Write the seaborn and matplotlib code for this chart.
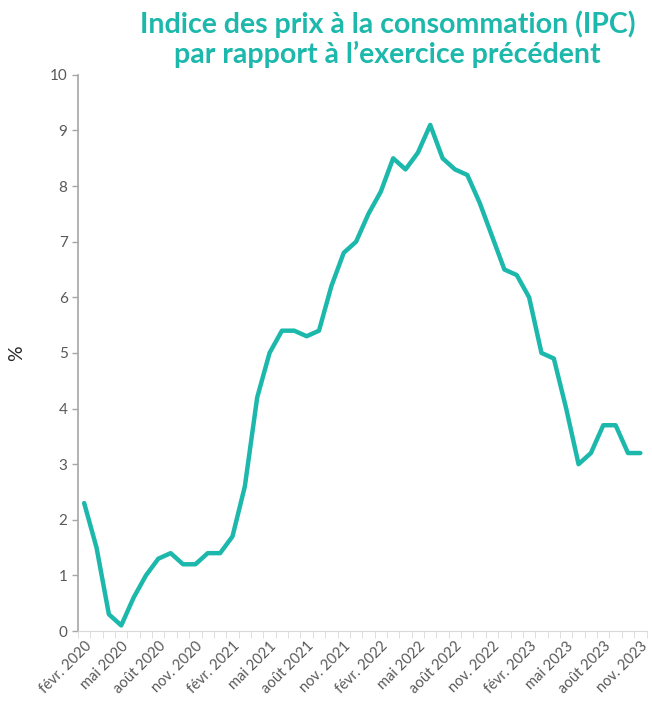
import pandas as pd
import matplotlib.pyplot as plt
import seaborn as sns
import numpy as np

# Mois (févr. 2020 -> nov. 2023)
mois = ['févr.', 'mars', 'avr.', 'mai', 'juin', 'juil.', 'août', 'sept.', 'oct.', 'nov.', 'déc.', 'janv.']
annees = [2020] * 11 + [2021] * 12 + [2022] * 12 + [2023] * 11
etiquettes = [f"{mois[i % 12]} {annees[i]}" for i in range(46)]

# IPC sur un an (%)
ipc = [2.3, 1.5, 0.3, 0.1, 0.6, 1.0, 1.3, 1.4, 1.2, 1.2, 1.4,
       1.4, 1.7, 2.6, 4.2, 5.0, 5.4, 5.4, 5.3, 5.4, 6.2, 6.8, 7.0,
       7.5, 7.9, 8.5, 8.3, 8.6, 9.1, 8.5, 8.3, 8.2, 7.7, 7.1, 6.5,
       6.4, 6.0, 5.0, 4.9, 4.0, 3.0, 3.2, 3.7, 3.7, 3.2, 3.2]

df = pd.DataFrame({'pos': np.arange(len(ipc)), 'ipc': ipc, 'mois': etiquettes})

sns.set_style("white")
plt.rcParams['font.family'] = ['Lato', 'DejaVu Sans']

teal = '#1DB8AC'
gris = '#A6A6A6'

fig = plt.figure(figsize=(6.52, 7.13), dpi=100)
ax = fig.add_axes([0.1196, 0.115, 0.872, 0.78])

sns.lineplot(data=df, x='pos', y='ipc', color=teal, linewidth=3.2, ax=ax, sort=False)

ax.set_xlim(-0.5, len(ipc) - 0.5)
ax.set_ylim(0, 10)
ax.set_yticks(range(0, 11))
ax.tick_params(axis='y', colors='#595959', labelsize=11, length=4, width=1, direction='out', left=True, color=gris)

# étiquettes tous les 3 mois, petites graduations à chaque mois
pos_lab = list(range(0, len(ipc), 3))
ax.set_xticks(pos_lab)
ax.set_xticklabels([etiquettes[i] for i in pos_lab], rotation=45, ha='right',
                   rotation_mode='anchor', color='#595959', fontsize=10.5)
ax.set_xticks(np.arange(-0.5, len(ipc), 1), minor=True)
ax.tick_params(axis='x', which='major', length=0, pad=6)
ax.tick_params(axis='x', which='minor', length=5, color='#D9D9D9', bottom=True)

for s in ['top', 'right']:
    ax.spines[s].set_visible(False)
ax.spines['left'].set_color(gris)
ax.spines['bottom'].set_color('#D9D9D9')
ax.spines['left'].set_linewidth(1.2)

ax.set_xlabel('')
ax.set_ylabel('%', fontsize=14, color='#262626', labelpad=18)
ax.grid(False)

fig.text(0.594, 0.986, "Indice des prix à la consommation (IPC)\npar rapport à l’exercice précédent",
         ha='center', va='top', color=teal, fontsize=20.5, fontweight='bold', linespacing=1.15)

plt.savefig('out.png', dpi=100)
